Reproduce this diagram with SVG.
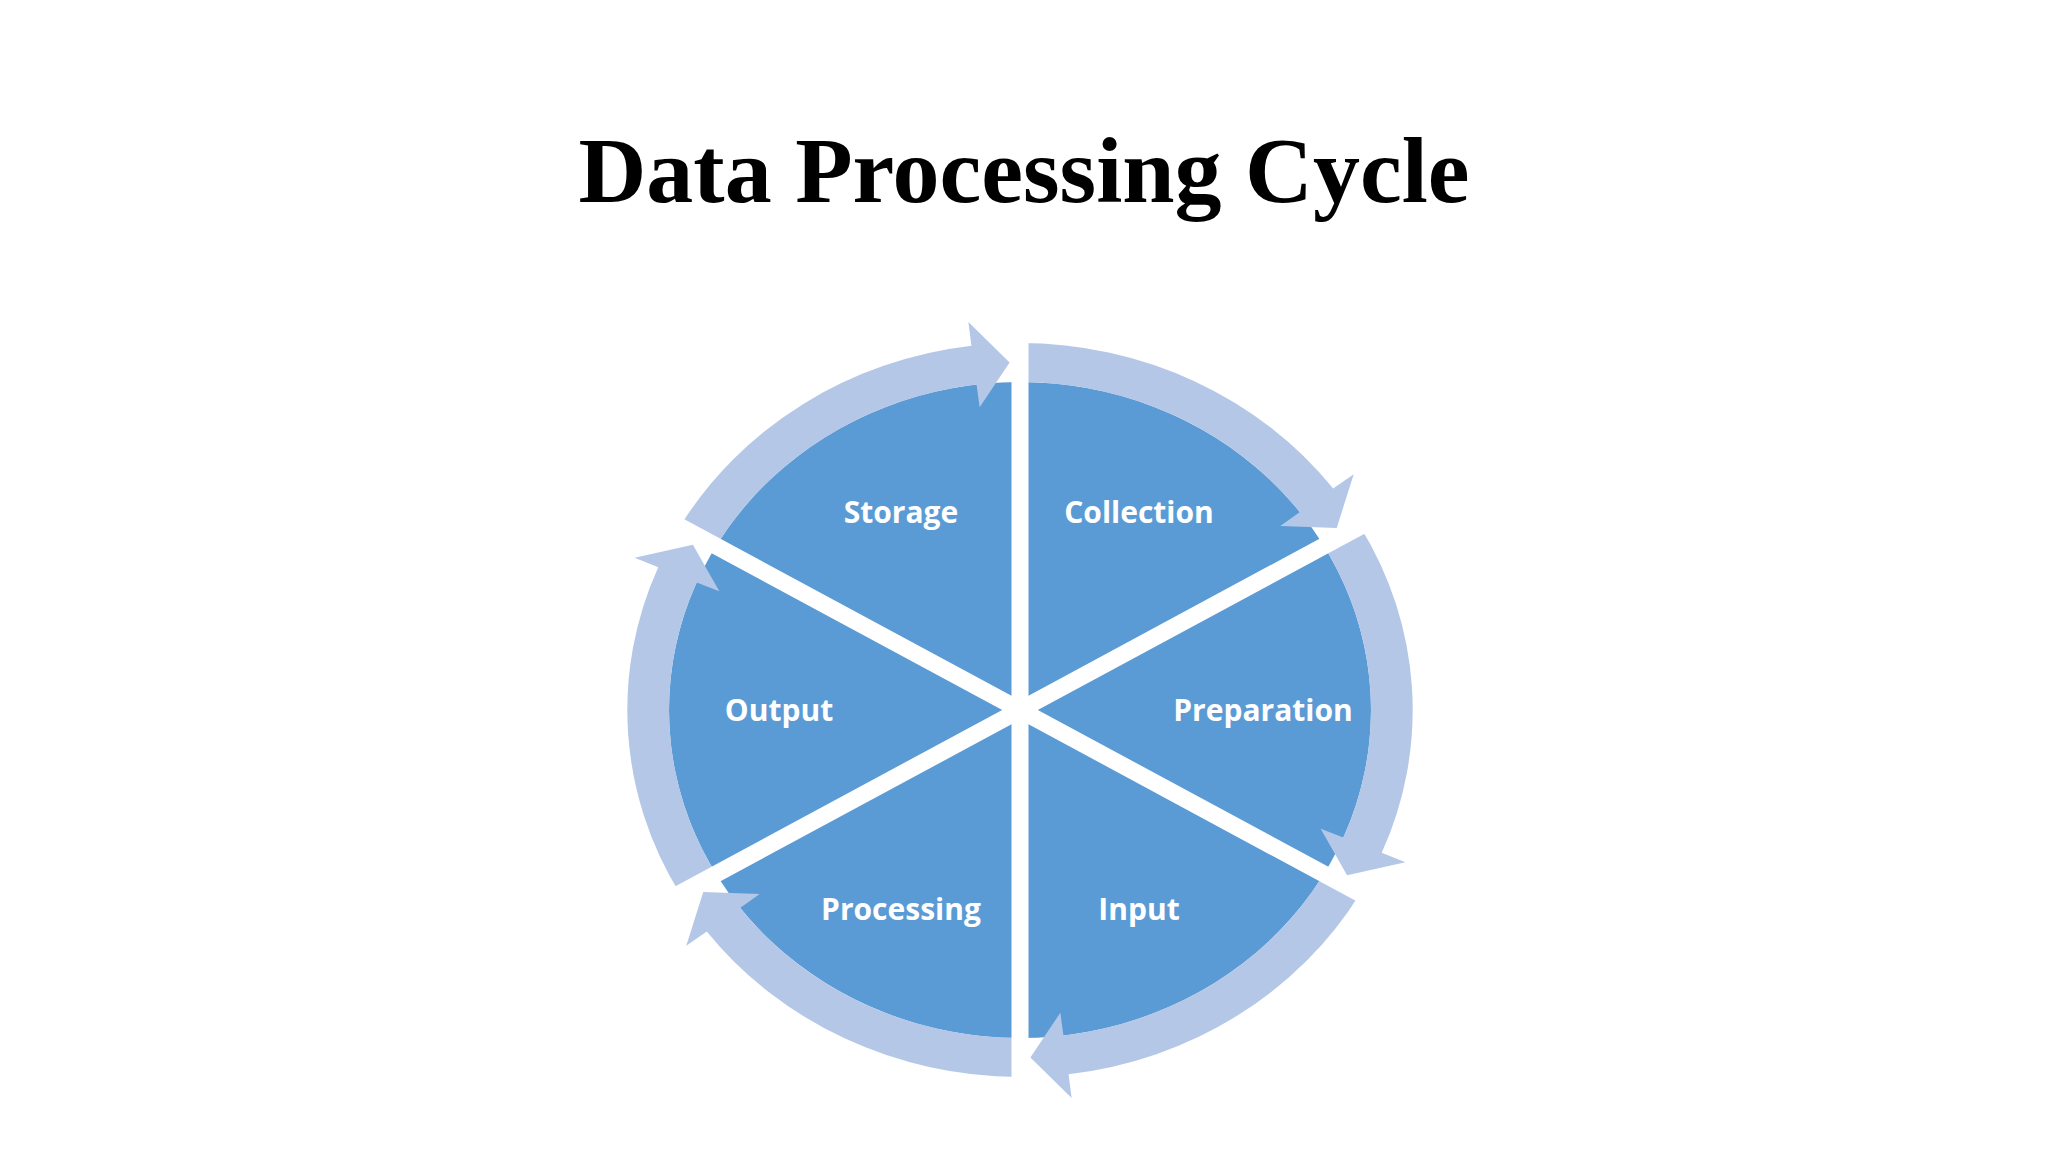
<svg xmlns="http://www.w3.org/2000/svg" xmlns:xlink="http://www.w3.org/1999/xlink" width="2048" height="1152" viewBox="0 0 2048 1152">
  <style>
    .title { font-family: "Liberation Serif", "Times New Roman", serif; font-weight: bold; font-size: 94px; fill: #000000; }
    .label { font-family: "Open Sans", "Noto Sans", sans-serif; font-weight: bold; font-size: 30px; fill: #ffffff; text-anchor: middle; }
    .pie { fill: #5b9bd5; }
    .ring { fill: #b4c7e7; }
    .gap { stroke: #ffffff; stroke-width: 17; stroke-linecap: butt; }
  </style>
  <defs>
    <path id="arc" d="M0,-367 A367,367 0 0 1 292.7,-221.4 L311.9,-235.8 L296.0,-182.1 L243.3,-184.0 L261.6,-197.9 A328,328 0 0 0 0,-328 Z"/>
  </defs>
  <rect x="0" y="0" width="2048" height="1152" fill="#ffffff"/>
  <text class="title" x="1024" y="202" text-anchor="middle">Data Processing Cycle</text>

  <g id="pie">
    <ellipse class="pie" cx="1020" cy="710" rx="351" ry="328"/>
  </g>

  <g id="connectors" transform="translate(1020,710) scale(1.07,1)">
    <use xlink:href="#arc" class="ring" transform="rotate(0)"/>
    <use xlink:href="#arc" class="ring" transform="rotate(60)"/>
    <use xlink:href="#arc" class="ring" transform="rotate(120)"/>
    <use xlink:href="#arc" class="ring" transform="rotate(180)"/>
    <use xlink:href="#arc" class="ring" transform="rotate(240)"/>
    <use xlink:href="#arc" class="ring" transform="rotate(300)"/>
  </g>

  <g id="gaps">
    <line class="gap" x1="1020" y1="290" x2="1020" y2="1130"/>
    <line class="gap" x1="1437" y1="485" x2="603" y2="935"/>
    <line class="gap" x1="1437" y1="935" x2="603" y2="485"/>
  </g>

  <g id="node-collection"><text class="label" x="1139" y="523">Collection</text></g>
  <g id="node-preparation"><text class="label" x="1263" y="721">Preparation</text></g>
  <g id="node-input"><text class="label" x="1139" y="920">Input</text></g>
  <g id="node-processing"><text class="label" x="901" y="920">Processing</text></g>
  <g id="node-output"><text class="label" x="779" y="721">Output</text></g>
  <g id="node-storage"><text class="label" x="901" y="523">Storage</text></g>
</svg>
